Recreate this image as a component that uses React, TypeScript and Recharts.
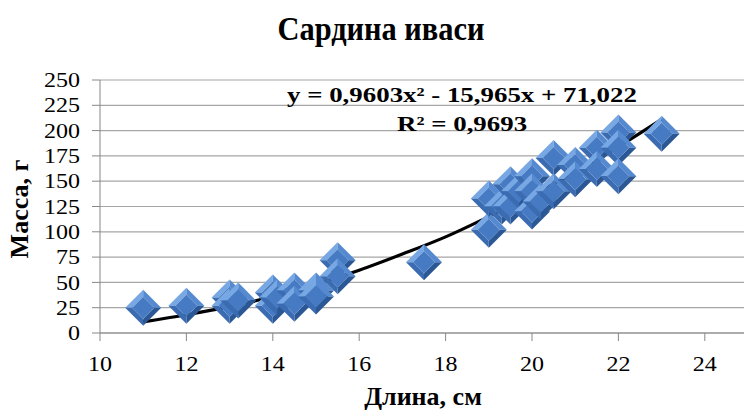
import React from 'react';
import {
  ComposedChart,
  Scatter,
  Line,
  XAxis,
  YAxis,
  CartesianGrid,
} from 'recharts';

// длина (см) / масса (г)
const lengths = [
  11, 12, 13, 13, 13.2, 14, 14, 14.1, 14.5, 14.5, 15, 15, 15.5, 15.5, 17.5,
  19, 19, 19.3, 19.5, 19.5, 19.7, 20, 20, 20, 20.2, 20.5, 20.5, 21, 21, 21.5,
  21.5, 22, 22, 22, 23,
];
const masses = [
  25, 27, 35, 27, 32, 40, 27, 35, 42, 29, 42, 36, 72, 56, 70,
  102, 133, 125, 147, 125, 140, 155, 140, 120, 130, 173, 140, 166, 152, 183,
  162, 198, 183, 155, 197,
];

// полиномиальная линия тренда, точки
const trendX = [11, 12, 13, 14, 15, 16, 17, 18, 19, 20, 21, 22, 23];
const trendY = [11, 18, 26, 36, 48, 62, 78, 95, 115, 136, 159, 184, 211];

const xTicks = [10, 12, 14, 16, 18, 20, 22, 24];
const yTicks = [0, 25, 50, 75, 100, 125, 150, 175, 200, 225, 250];

const title = 'Сардина иваси';
const xTitle = 'Длина, см';
const yTitle = 'Масса, г';
const equation = 'y = 0,9603x² - 15,965x + 71,022';
const rSquared = 'R² = 0,9693';

const points = lengths.map((x, i) => ({ x, y: masses[i] }));
const trend = trendX.map((x, i) => ({ x, t: trendY[i] }));

const FONT = '"Liberation Serif", "Times New Roman", serif';

const Diamond = (props: any) => {
  const { cx, cy } = props;
  if (cx == null || cy == null) return null;
  const R = 18;
  const r = 11;
  const T = `${cx},${cy - R}`;
  const Rt = `${cx + R},${cy}`;
  const B = `${cx},${cy + R}`;
  const L = `${cx - R},${cy}`;
  const t = `${cx},${cy - r}`;
  const rr = `${cx + r},${cy}`;
  const b = `${cx},${cy + r}`;
  const l = `${cx - r},${cy}`;
  return (
    <g>
      <polygon points={`${L} ${T} ${t} ${l}`} fill="#78a8e4" />
      <polygon points={`${T} ${Rt} ${rr} ${t}`} fill="#5589d0" />
      <polygon points={`${Rt} ${B} ${b} ${rr}`} fill="#2b5895" />
      <polygon points={`${B} ${L} ${l} ${b}`} fill="#3b6cb2" />
      <polygon points={`${t} ${rr} ${b} ${l}`} fill="#467bc3" />
    </g>
  );
};

const XTick = (props: any) => {
  const { x, y, payload } = props;
  return (
    <g transform={`translate(${x},${y}) scale(1.2,1)`}>
      <text textAnchor="middle" dy="0.71em" fontSize={20} fontFamily={FONT} fill="#000">
        {payload.value}
      </text>
    </g>
  );
};

const YTick = (props: any) => {
  const { x, y, payload } = props;
  return (
    <g transform={`translate(${x},${y}) scale(1.2,1)`}>
      <text textAnchor="end" dy="0.355em" fontSize={20} fontFamily={FONT} fill="#000">
        {payload.value}
      </text>
    </g>
  );
};

export default function App() {
  return (
    <div
      style={{
        position: 'absolute',
        left: 0,
        top: 0,
        width: 744,
        height: 412,
        overflow: 'hidden',
        background: '#fff',
      }}
    >
      <ComposedChart
        width={748}
        height={412}
        data={trend}
        margin={{ top: 80, right: 0, bottom: 0, left: 0 }}
      >
        <CartesianGrid vertical={false} stroke="#a6a6a6" strokeWidth={1.2} />
        <XAxis
          type="number"
          dataKey="x"
          domain={[10, 25]}
          ticks={xTicks}
          allowDataOverflow
          height={79}
          tickSize={8}
          tickMargin={16}
          stroke="#888"
          tick={<XTick />}
        />
        <YAxis
          type="number"
          domain={[0, 250]}
          ticks={yTicks}
          width={100}
          tickSize={8}
          tickMargin={12}
          stroke="#888"
          tick={<YTick />}
        />
        <Scatter
          data={points}
          dataKey="y"
          shape={<Diamond />}
          isAnimationActive={false}
        />
        <Line
          type="monotone"
          dataKey="t"
          stroke="#000"
          strokeWidth={3.2}
          dot={false}
          activeDot={false}
          isAnimationActive={false}
        />
      </ComposedChart>
      <svg
        width={744}
        height={412}
        style={{ position: 'absolute', left: 0, top: 0, pointerEvents: 'none' }}
      >
        <g transform="translate(381,40) scale(0.95,1.05)">
          <text textAnchor="middle" fontSize={32} fontWeight="bold" fontFamily={FONT}>
            {title}
          </text>
        </g>
        <text x={423} y={405} textAnchor="middle" fontSize={26} fontWeight="bold" fontFamily={FONT}>
          {xTitle}
        </text>
        <text
          transform="translate(28,209) rotate(-90)"
          textAnchor="middle"
          fontSize={26}
          fontWeight="bold"
          fontFamily={FONT}
        >
          {yTitle}
        </text>
        <g transform="translate(287,102) scale(1.28,1)">
          <text fontSize={21} fontWeight="bold" fontFamily={FONT}>{equation}</text>
        </g>
        <g transform="translate(397,131) scale(1.28,1)">
          <text fontSize={21} fontWeight="bold" fontFamily={FONT}>{rSquared}</text>
        </g>
      </svg>
    </div>
  );
}
